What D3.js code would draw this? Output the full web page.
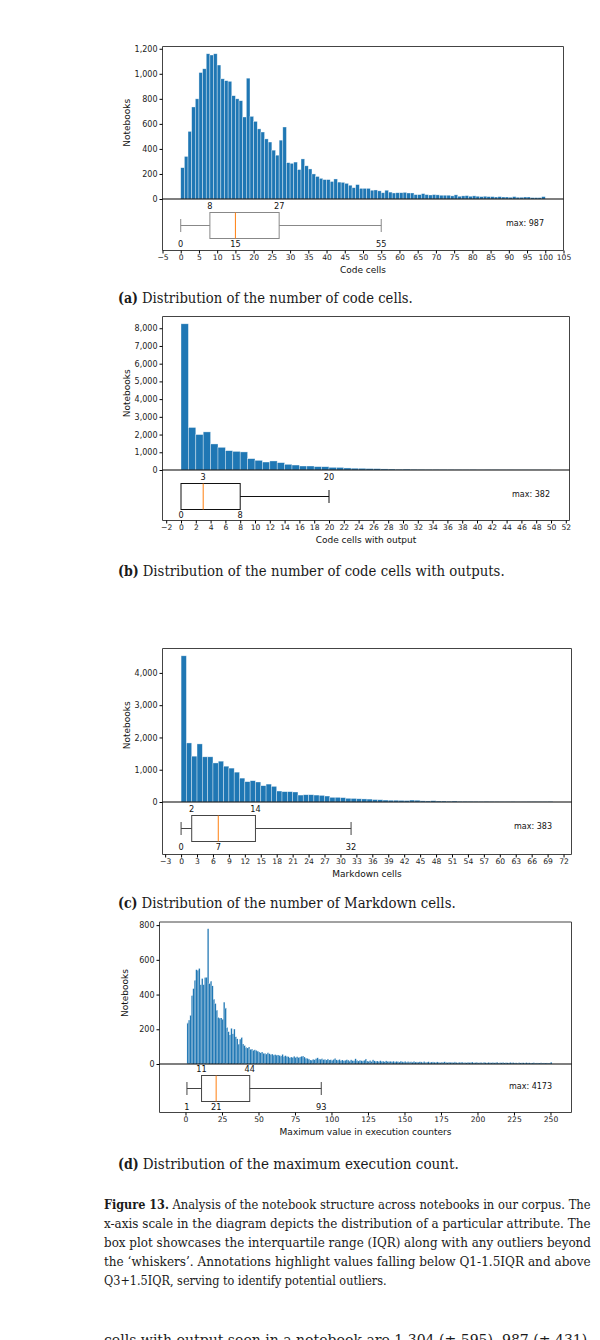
<!DOCTYPE html>
<html>
<head>
<meta charset="utf-8" />
<title>Notebook structure distributions</title>
<script src="https://d3js.org/d3.v7.min.js"></script>
<style>
  body { margin: 0; background: #fff; }
  svg { display: block; }
</style>
</head>
<body>
<svg width="600" height="1340"></svg>
<script>
// ---- data ----
// (a) code cells per notebook, bins of width 1 starting at 0
const codeCellCounts = [
  250, 340, 540, 735, 800, 1010, 1040, 1160, 1150, 1160,
  1070, 960, 945, 940, 825, 800, 785, 655, 965, 660,
  620, 560, 535, 480, 455, 390, 350, 470, 575, 290,
  285, 295, 235, 320, 265, 240, 200, 180, 165, 155,
  155, 140, 160, 135, 133, 125, 110, 90, 115, 85,
  85, 85, 70, 72, 65, 50, 70, 55, 48, 50,
  50, 53, 48, 48, 35, 35, 43, 35, 32, 35,
  33, 30, 30, 30, 25, 33, 22, 25, 27, 22,
  25, 22, 19, 22, 19, 19, 16, 19, 16, 16,
  14, 19, 14, 14, 16, 16, 11, 11, 11, 19
];
const codeCellBox = [0, 8, 15, 27, 55];          // whisker low, q1, median, q3, whisker high
const codeCellAbove = [8, 27];
const codeCellBelow = [0, 15, 55];
const codeCellMax = 987;
const codeCellXTicks = [-5, 0, 5, 10, 15, 20, 25, 30, 35, 40, 45, 50, 55, 60, 65, 70, 75, 80, 85, 90, 95, 100, 105];
const codeCellYTicks = [0, 200, 400, 600, 800, 1000, 1200];

// (b) code cells with output, bins of width 1 starting at 0
const outputCellCounts = [
  8250, 2400, 2000, 2150, 1470, 1280, 1090, 1050, 1020, 640,
  545, 450, 510, 415, 320, 280, 225, 225, 190, 185,
  150, 145, 115, 100, 95, 80, 75, 60, 55, 45,
  50, 40, 35, 30, 30, 28, 25, 22, 20, 25,
  18, 15, 14, 12, 12, 10, 10, 9, 8, 8
];
const outputCellBox = [0, 0, 3, 8, 20];
const outputCellAbove = [3, 20];
const outputCellBelow = [0, 8];
const outputCellMax = 382;
const outputCellXTicks = [-2, 0, 2, 4, 6, 8, 10, 12, 14, 16, 18, 20, 22, 24, 26, 28, 30, 32, 34, 36, 38, 40, 42, 44, 46, 48, 50, 52];
const outputCellYTicks = [0, 1000, 2000, 3000, 4000, 5000, 6000, 7000, 8000];

// (c) markdown cells, bins of width 1 starting at 0
const markdownCellCounts = [
  4530, 1830, 1420, 1800, 1400, 1400, 1210, 1265, 1110, 1050,
  925, 740, 630, 660, 620, 505, 555, 485, 340, 320,
  320, 310, 215, 225, 225, 215, 205, 185, 145, 145,
  135, 115, 110, 100, 95, 90, 75, 70, 60, 55,
  55, 50, 45, 60, 55, 35, 32, 40, 30, 30,
  25, 30, 22, 22, 20, 18, 15, 18, 15, 14,
  12, 12, 14, 10, 10, 12, 9, 8, 8, 15
];
const markdownCellBox = [0, 2, 7, 14, 32];
const markdownCellAbove = [2, 14];
const markdownCellBelow = [0, 7, 32];
const markdownCellMax = 383;
const markdownCellXTicks = [-3, 0, 3, 6, 9, 12, 15, 18, 21, 24, 27, 30, 33, 36, 39, 42, 45, 48, 51, 54, 57, 60, 63, 66, 69, 72];
const markdownCellYTicks = [0, 1000, 2000, 3000, 4000];

// (d) maximum execution counter, bins of width 1 starting at 1
const execCountCounts = [
  237, 253, 281, 394, 434, 482, 543, 540, 550, 457,
  492, 457, 498, 500, 779, 463, 477, 450, 373, 348,
  310, 268, 265, 265, 258, 356, 323, 210, 186, 168,
  205, 174, 201, 157, 145, 115, 143, 153, 115, 107,
  96, 92, 98, 84, 86, 78, 82, 78, 75, 69,
  65, 69, 63, 61, 57, 65, 59, 55, 57, 52,
  54, 52, 52, 50, 46, 55, 44, 48, 44, 42,
  36, 40, 38, 44, 38, 42, 38, 40, 44, 46,
  40, 34, 32, 29, 23, 23, 27, 25, 31, 36,
  29, 27, 31, 25, 27, 23, 29, 23, 25, 21,
  27, 32, 24, 22, 26, 20, 23, 19, 21, 25,
  22, 18, 24, 20, 19, 30, 21, 17, 22, 19,
  18, 21, 29, 17, 16, 20, 15, 24, 18, 16,
  17, 14, 19, 15, 16, 13, 18, 15, 14, 17,
  13, 16, 12, 15, 14, 11, 17, 13, 12, 15,
  11, 14, 12, 13, 10, 15, 11, 12, 10, 13,
  12, 9, 14, 10, 11, 13, 9, 11, 12, 10,
  9, 12, 10, 8, 11, 9, 13, 10, 8, 11,
  9, 10, 8, 12, 9, 7, 10, 9, 11, 8,
  9, 7, 10, 8, 9, 11, 7, 8, 10, 7,
  8, 9, 7, 10, 8, 6, 9, 8, 7, 9,
  7, 8, 10, 6, 8, 7, 9, 6, 8, 7,
  6, 9, 7, 8, 6, 7, 5, 8, 6, 7,
  7, 5, 8, 6, 7, 5, 6, 8, 5, 6,
  6, 5, 7, 4, 6, 5, 6, 4, 5, 10
];
const execCountBox = [1, 11, 21, 44, 93];
const execCountAbove = [11, 44];
const execCountBelow = [1, 21, 93];
const execCountMax = 4173;
const execCountXTicks = [0, 25, 50, 75, 100, 125, 150, 175, 200, 225, 250];
const execCountYTicks = [0, 200, 400, 600, 800];

const subCaptions = [
  ["(a)", "Distribution of the number of code cells."],
  ["(b)", "Distribution of the number of code cells with outputs."],
  ["(c)", "Distribution of the number of Markdown cells."],
  ["(d)", "Distribution of the maximum execution count."]
];
const figureLines = [
  "Analysis of the notebook structure across notebooks in our corpus. The",
  "x-axis scale in the diagram depicts the distribution of a particular attribute. The",
  "box plot showcases the interquartile range (IQR) along with any outliers beyond",
  "the \u2018whiskers\u2019. Annotations highlight values falling below Q1-1.5IQR and above",
  "Q3+1.5IQR, serving to identify potential outliers."
];
const bodyLine = "cells with output seen in a notebook are 1,304 (\u00b1 595), 987 (\u00b1 431)";

// ---- drawing ----
const svg = d3.select("svg");
const sans = "'DejaVu Sans', sans-serif";
const serif = "'DejaVu Serif', serif";
const blue = "#1f77b4";
const orange = "#ff7f0e";

function drawPanel(p) {
  const g = svg.append("g");
  const x = d3.scaleLinear().domain(p.xDomain).range([p.left, p.right]);
  const y = d3.scaleLinear().domain([0, d3.max(p.counts) * 1.05]).range([p.zero, p.top]);

  // histogram bars
  g.append("g").selectAll("rect")
    .data(p.counts)
    .join("rect")
    .attr("x", (d, i) => x(p.start + i))
    .attr("y", d => y(d))
    .attr("width", (d, i) => x(p.start + i + 1) - x(p.start + i))
    .attr("height", d => y(0) - y(d))
    .attr("fill", blue)
    .attr("stroke", "#fff")
    .attr("stroke-opacity", p.edgeOpacity)
    .attr("stroke-width", p.edge);

  // frames
  const frame = g.append("g").attr("fill", "none").attr("stroke", "#444").attr("stroke-width", 1);
  frame.append("path").attr("d", `M${p.left},${p.zero}V${p.top}H${p.right}V${p.zero}`);
  frame.append("path").attr("d", `M${p.left},${p.zero}V${p.bottom}H${p.right}V${p.zero}`);
  g.append("line")
    .attr("x1", p.left).attr("x2", p.right)
    .attr("y1", p.zero).attr("y2", p.zero)
    .attr("stroke", "#000").attr("stroke-width", 1.2);

  // y axis
  const yAxis = g.append("g")
    .attr("transform", `translate(${p.left},0)`)
    .call(d3.axisLeft(y).tickValues(p.yTicks).tickSize(3).tickPadding(2).tickFormat(d3.format(",")));
  yAxis.select(".domain").remove();
  yAxis.selectAll("text").attr("font-family", sans).attr("font-size", 8).attr("fill", "#222");

  // x axis
  const xAxis = g.append("g")
    .attr("transform", `translate(0,${p.bottom})`)
    .call(d3.axisBottom(x).tickValues(p.xTicks).tickSize(3).tickPadding(1.5));
  xAxis.select(".domain").remove();
  xAxis.selectAll("text").attr("font-family", sans).attr("font-size", 7.6).attr("fill", "#222");

  // labels
  g.append("text")
    .attr("transform", `translate(${p.yLabelX},${(p.top + p.zero) / 2}) rotate(-90)`)
    .attr("text-anchor", "middle").attr("dy", "0.35em")
    .attr("font-family", sans).attr("font-size", 9).attr("fill", "#111")
    .text("Notebooks");
  g.append("text")
    .attr("x", (p.left + p.right) / 2).attr("y", p.bottom + 22)
    .attr("text-anchor", "middle")
    .attr("font-family", sans).attr("font-size", 9).attr("fill", "#111")
    .text(p.xLabel);

  // box plot
  const [lo, q1, med, q3, hi] = p.box;
  const m = p.boxMid, h = 13, c = 6.5;
  const bx = g.append("g").attr("fill", "none").attr("stroke", p.boxColor).attr("stroke-width", 1);
  if (q1 > lo) {
    bx.append("line").attr("x1", x(lo)).attr("x2", x(q1)).attr("y1", m).attr("y2", m);
    bx.append("line").attr("x1", x(lo)).attr("x2", x(lo)).attr("y1", m - c).attr("y2", m + c);
  }
  bx.append("line").attr("x1", x(q3)).attr("x2", x(hi)).attr("y1", m).attr("y2", m);
  bx.append("line").attr("x1", x(hi)).attr("x2", x(hi)).attr("y1", m - c).attr("y2", m + c);
  bx.append("rect")
    .attr("x", x(q1)).attr("y", m - h)
    .attr("width", x(q3) - x(q1)).attr("height", 2 * h);
  g.append("line")
    .attr("x1", x(med)).attr("x2", x(med))
    .attr("y1", m - h).attr("y2", m + h)
    .attr("stroke", orange).attr("stroke-width", 1);

  const ann = g.append("g").attr("font-family", sans).attr("font-size", 8.2)
    .attr("fill", "#111").attr("text-anchor", "middle");
  ann.selectAll("text.above").data(p.above).join("text")
    .attr("class", "above")
    .attr("x", d => x(d)).attr("y", m - 16.5).text(d => d);
  ann.selectAll("text.below").data(p.below).join("text")
    .attr("class", "below")
    .attr("x", d => x(d)).attr("y", m + 21).text(d => d);

  g.append("text")
    .attr("x", p.right - 19.5).attr("y", m)
    .attr("text-anchor", "end")
    .attr("font-family", sans).attr("font-size", 8).attr("fill", "#111")
    .text(`max: ${p.max}`);
}

drawPanel({
  counts: codeCellCounts, start: 0, box: codeCellBox, above: codeCellAbove, below: codeCellBelow,
  max: codeCellMax, xTicks: codeCellXTicks, yTicks: codeCellYTicks, xDomain: [-5, 105],
  left: 162.5, right: 563.5, top: 46.5, zero: 199, bottom: 250.5, boxMid: 225.5,
  yLabelX: 127, xLabel: "Code cells", boxColor: "#888", edge: 0.6, edgeOpacity: 0.6
});
drawPanel({
  counts: outputCellCounts, start: 0, box: outputCellBox, above: outputCellAbove, below: outputCellBelow,
  max: outputCellMax, xTicks: outputCellXTicks, yTicks: outputCellYTicks, xDomain: [-2.5, 52.5],
  left: 162.5, right: 569.5, top: 316.5, zero: 470, bottom: 520.5, boxMid: 496.5,
  yLabelX: 127, xLabel: "Code cells with output", boxColor: "#111", edge: 0.6, edgeOpacity: 0.6
});
drawPanel({
  counts: markdownCellCounts, start: 0, box: markdownCellBox, above: markdownCellAbove, below: markdownCellBelow,
  max: markdownCellMax, xTicks: markdownCellXTicks, yTicks: markdownCellYTicks, xDomain: [-3.5, 73.5],
  left: 162.5, right: 571.5, top: 648.5, zero: 802, bottom: 854.5, boxMid: 828.5,
  yLabelX: 127, xLabel: "Markdown cells", boxColor: "#444", edge: 0.6, edgeOpacity: 0.6
});
drawPanel({
  counts: execCountCounts, start: 1, box: execCountBox, above: execCountAbove, below: execCountBelow,
  max: execCountMax, xTicks: execCountXTicks, yTicks: execCountYTicks, xDomain: [-17.8, 264.4],
  left: 159.5, right: 571.5, top: 922, zero: 1064, bottom: 1112.5, boxMid: 1088.5,
  yLabelX: 125, xLabel: "Maximum value in execution counters", boxColor: "#444", edge: 0.3, edgeOpacity: 0.45
});

// ---- captions ----
// each piece is drawn at its natural width and squeezed horizontally to the target span
function fitText(x0, yb, size, weight, str, targetWidth) {
  const t = svg.append("text")
    .attr("font-family", serif).attr("font-size", size).attr("font-weight", weight)
    .attr("fill", "#1a1a1a").text(str);
  const natural = t.node().getComputedTextLength();
  const sx = targetWidth ? targetWidth / natural : 0.9;
  t.attr("transform", `translate(${x0},${yb}) scale(${sx},1)`);
  return natural * sx;
}

function captionLine(x0, x1, yb, size, bold, rest) {
  let cx = x0;
  if (bold) cx = x0 + fitText(x0, yb, size, "bold", bold, null) + size * 0.28;
  fitText(cx, yb, size, "normal", rest, x1 - cx);
}

const subCapY = [303, 576, 908, 1169];
const subCapEnd = [413, 505, 456, 459];
subCaptions.forEach((s, i) => captionLine(118, subCapEnd[i], subCapY[i], 14, s[0], s[1]));

const figY = [1209, 1228, 1247, 1266, 1285];
figureLines.forEach((line, i) => {
  const last = i === figureLines.length - 1;
  captionLine(104, last ? 387 : 591, figY[i], 12.5, i === 0 ? "Figure 13." : null, line);
});
captionLine(104, 588, 1345, 14, null, bodyLine);
</script>
</body>
</html>
